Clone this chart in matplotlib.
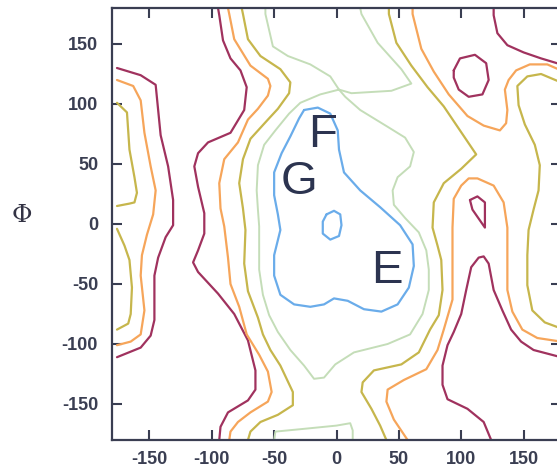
import matplotlib
matplotlib.use("Agg")
import matplotlib.pyplot as plt

plt.rcParams["axes.unicode_minus"] = False

maroon_left_psi = [-176, -157, -145, -143, -141, -135, -131, -131, -137, -143, -146, -146, -149, -157, -176]
maroon_left_phi = [130, 124, 116, 95, 74, 48, 20, -1, -11, -28, -43, -80, -93, -103, -111]

orange_left_psi = [-176, -163, -157, -154, -149, -145, -147, -152, -156, -157, -154, -157, -165, -176]
orange_left_phi = [120, 115, 103, 76, 48, 28, 8, -9, -26, -43, -72, -92, -98, -101]

olive_left_a_psi = [-176, -168, -166, -162, -160, -162, -166, -176]
olive_left_a_phi = [101, 93, 62, 39, 26, 18, 17, 15]
olive_left_b_psi = [-176, -170, -166, -164, -165, -167, -176]
olive_left_b_phi = [-4, -18, -30, -53, -75, -83, -88]

maroon_mid_psi = [-95, -94, -91, -85, -77, -72, -74, -85, -103, -111, -114, -111, -106, -106, -111,
                  -115, -111, -95, -82, -71, -65, -65, -71, -87, -93, -94]
maroon_mid_phi = [180, 174, 153, 138, 128, 114, 95, 76, 68, 59, 48, 31, 9, -8, -22,
                  -32, -40, -58, -75, -97, -122, -138, -147, -157, -169, -180]

orange_mid_psi = [-87, -86, -82, -69, -55, -53, -55, -63, -71, -79, -90, -94, -93, -90, -87, -85,
                  -78, -72, -62, -55, -52, -55, -69, -79, -85, -86]
orange_mid_phi = [180, 175, 154, 132, 121, 115, 107, 96, 87, 68, 54, 34, 13, -2, -28, -50,
                  -69, -92, -109, -123, -140, -148, -157, -165, -173, -180]

olive_mid_psi = [-76, -75, -71, -61, -45, -37, -38, -47, -55, -69, -75, -78, -75, -73, -74, -71,
                 -63, -59, -53, -45, -35, -35, -47, -61, -69, -71]
olive_mid_phi = [180, 175, 154, 140, 129, 118, 109, 96, 87, 71, 54, 34, 13, -5, -33, -56,
                 -78, -92, -105, -118, -140, -151, -159, -165, -173, -180]

green_top_psi = [-57, -57, -51, -39, -21, -5, 2, 12, 44, 60, 52, 33, 20, 19]
green_top_phi = [180, 175, 148, 140, 133, 123, 112, 109, 111, 117, 129, 151, 175, 180]

green_loop_psi = [2, -13, -29, -38, -49, -58, -63, -64, -63, -62, -62, -62, -59, -54, -47, -37, -26,
                  -18, -10, -1, 14, 41, 59, 69, 74, 74, 72, 66, 55, 46, 45, 49, 59, 62, 55, 41, 19, 7, 2]
green_loop_phi = [112, 108, 101, 92, 78, 66, 49, 28, 12, -2, -18, -38, -59, -76, -90, -105, -118,
                  -129, -128, -117, -107, -100, -92, -75, -55, -38, -22, -7, 5, 16, 28, 39, 48, 60, 72, 81, 95, 106, 112]

green_bottom_psi = [-50, -49, -29, 0, 11, 13, 13]
green_bottom_phi = [-180, -173, -171, -168, -166, -172, -180]

blue_psi = [-26, -15, -5, 1, 2, 6, 19, 35, 51, 61, 62, 58, 49, 36, 22, 9, -2, -10, -21, -34, -45,
            -50, -50, -45, -47, -50, -50, -44, -37, -30, -26]
blue_phi = [95, 97, 92, 78, 62, 43, 28, 14, -1, -17, -35, -53, -67, -73, -71, -64, -62, -67, -69, -67, -59,
            -43, -26, -5, 8, 24, 43, 59, 73, 88, 95]

blue_small_psi = [-8, -2, 3, 4, 2, -5, -11, -11, -8]
blue_small_phi = [8, 11, 8, -1, -10, -13, -8, 2, 8]

olive_right_psi = [42, 42, 48, 60, 73, 86, 99, 112, 100, 86, 78, 77, 81, 84, 85, 82, 75, 66, 52, 30,
                   21, 20, 28, 35, 40]
olive_right_phi = [180, 175, 151, 132, 114, 98, 78, 58, 46, 34, 18, -3, -18, -30, -55, -76, -88, -107, -117, -122,
                   -132, -140, -154, -168, -180]

orange_top_psi = [61, 61, 68, 78, 90, 105, 118, 131, 136, 137, 135, 138, 144, 155, 169, 180]
orange_top_phi = [180, 175, 146, 127, 108, 90, 82, 78, 84, 95, 112, 120, 128, 133, 133, 128]

orange_arch_psi = [57, 46, 40, 41, 54, 72, 81, 86, 93, 93, 93, 94, 100, 106, 113, 126, 134, 137, 137,
                   137, 141, 149, 161, 180]
orange_arch_phi = [-180, -163, -148, -138, -130, -121, -105, -88, -63, -30, -3, 21, 32, 38, 38, 32, 18, -3, -30,
                   -55, -73, -88, -95, -98]

maroon_arch_psi = [124, 118, 105, 89, 85, 85, 89, 94, 100, 104, 108, 114, 118, 122, 126, 133, 140, 148, 158, 180]
maroon_arch_phi = [-180, -165, -154, -146, -134, -118, -101, -90, -75, -55, -36, -28, -27, -33, -55, -72, -88,
                   -98, -105, -111]

olive_edge_psi = [180, 164, 153, 145, 146, 151, 159, 163, 162, 158, 154, 153, 153, 157, 167, 180]
olive_edge_phi = [118, 125, 123, 115, 99, 83, 66, 49, 28, 12, -5, -26, -51, -72, -82, -87]

maroon_ring_psi = [94, 99, 111, 120, 122, 117, 106, 98, 94, 94]
maroon_ring_phi = [128, 138, 141, 134, 120, 108, 106, 112, 122, 128]

maroon_drop_psi = [107, 113, 119, 119, 119, 115, 109, 107]
maroon_drop_phi = [20, 23, 18, 8, -3, 3, 12, 20]

maroon_top_psi = [126, 126, 129, 137, 150, 164, 180]
maroon_top_phi = [180, 174, 159, 149, 143, 138, 133]

ticks = [-150, -100, -50, 0, 50, 100, 150]
region_labels = ["F", "G", "E"]
region_psi = [-11, -30, 40]
region_phi = [74, 35, -39]

MAROON = "#a0325e"
ORANGE = "#f6a55a"
OLIVE = "#c6b64c"
GREEN = "#c4ddb8"
BLUE = "#6aacea"
INK = "#3a3e52"

fig = plt.figure(figsize=(5.57, 4.74), dpi=100)
ax = fig.add_axes([112 / 557, 34 / 474, 449 / 557, 432 / 474])

curves = [
    (maroon_left_psi, maroon_left_phi, MAROON, 1.6),
    (orange_left_psi, orange_left_phi, ORANGE, 1.6),
    (olive_left_a_psi, olive_left_a_phi, OLIVE, 1.6),
    (olive_left_b_psi, olive_left_b_phi, OLIVE, 1.6),
    (maroon_mid_psi, maroon_mid_phi, MAROON, 1.6),
    (orange_mid_psi, orange_mid_phi, ORANGE, 1.6),
    (olive_mid_psi, olive_mid_phi, OLIVE, 1.6),
    (green_top_psi, green_top_phi, GREEN, 1.4),
    (green_loop_psi, green_loop_phi, GREEN, 1.4),
    (green_bottom_psi, green_bottom_phi, GREEN, 1.4),
    (blue_psi, blue_phi, BLUE, 1.6),
    (blue_small_psi, blue_small_phi, BLUE, 1.6),
    (olive_right_psi, olive_right_phi, OLIVE, 1.6),
    (orange_top_psi, orange_top_phi, ORANGE, 1.6),
    (orange_arch_psi, orange_arch_phi, ORANGE, 1.6),
    (maroon_arch_psi, maroon_arch_phi, MAROON, 1.6),
    (olive_edge_psi, olive_edge_phi, OLIVE, 1.6),
    (maroon_ring_psi, maroon_ring_phi, MAROON, 1.6),
    (maroon_drop_psi, maroon_drop_phi, MAROON, 1.6),
    (maroon_top_psi, maroon_top_phi, MAROON, 1.6),
]
for xs, ys, c, lw in curves:
    ax.plot(xs, ys, color=c, lw=lw, solid_joinstyle="round", solid_capstyle="round")

for lab, x, y in zip(region_labels, region_psi, region_phi):
    ax.text(x, y, lab, fontsize=34, color="#2c3450", ha="center", va="center",
            family="Liberation Sans")

ax.set_xlim(-180, 180)
ax.set_ylim(-180, 180)
ax.set_xticks(ticks)
ax.set_yticks(ticks)
ax.tick_params(which="both", direction="in", top=True, right=True, length=7, width=1.5,
               color=INK, labelcolor=INK, labelsize=13)
ax.tick_params(axis="x", pad=8)
ax.tick_params(axis="y", pad=10)
for lab in ax.get_xticklabels() + ax.get_yticklabels():
    lab.set_fontweight("bold")
    lab.set_family("Liberation Sans")
for sp in ax.spines.values():
    sp.set_color(INK)
    sp.set_linewidth(1.6)

fig.text(22 / 557, 1 - 216 / 474, "\u03a6", fontsize=18, color="#333344", ha="center", va="center",
         family="DejaVu Serif")

fig.savefig("out.png", dpi=100)
